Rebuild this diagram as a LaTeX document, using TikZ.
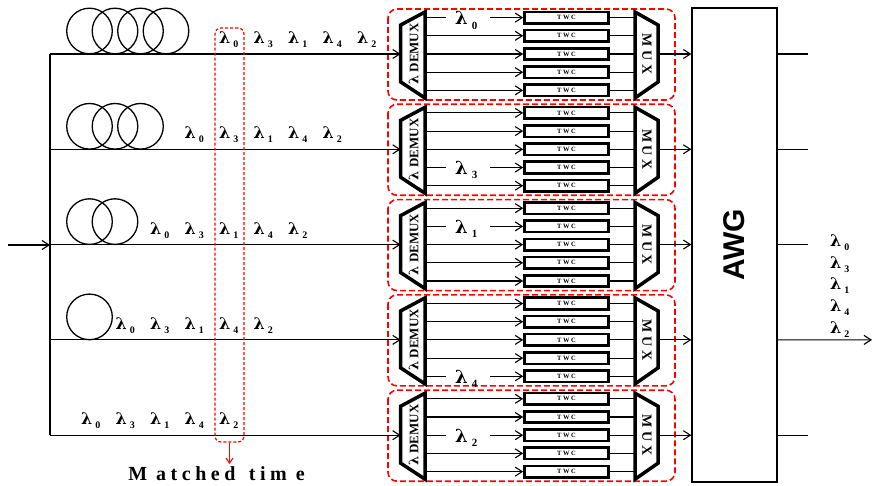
\documentclass[tikz,border=0pt]{standalone}
\usepackage{fontspec}
\setmainfont{Liberation Serif}
\newfontfamily\awgfont{Liberation Sans}
\newfontfamily\lamfont{DejaVu Serif}
\usetikzlibrary{arrows.meta}
\newcommand{\lam}[1]{{\lamfont\fontsize{16}{16}\selectfont\bfseries λ}\kern3pt\raisebox{-4pt}{\fontsize{10}{10}\selectfont\bfseries #1}}
\newcommand{\biglam}[1]{{\lamfont\fontsize{18}{18}\selectfont\bfseries λ}\kern4pt\raisebox{-4.5pt}{\fontsize{11}{11}\selectfont\bfseries #1}}
\begin{document}
\begin{tikzpicture}[x=1pt,y=-1pt,
  wire/.style={line width=1.1pt},
  arr/.style={wire,-{Straight Barb[length=7pt,width=9pt]}},
  thickbox/.style={line width=3.5pt, line join=miter},
  twcbox/.style={draw, line width=2.6pt, minimum width=84, minimum height=11.5, inner sep=0,
    font=\fontsize{6.5}{6.5}\selectfont\bfseries},
  blockbox/.style={draw=red, line width=1.6pt, dash pattern=on 6pt off 3pt, rounded corners=9pt},
  lab/.style={inner sep=0, anchor=base west},
  coil/.style={line width=1.3pt}
]
\useasboundingbox (0,0) rectangle (872,486);

% AWG
\node[draw, line width=1.3pt, rotate=90, minimum width=474, minimum height=85, inner sep=0,
  font=\awgfont\fontsize{30}{30}\selectfont\bfseries] (awg) at (734.5,245) {AWG};

% input and bus
\coordinate (src) at (8,245);
\coordinate (bustop) at (50,54);
\coordinate (busmid) at (50,245);
\coordinate (busbot) at (50,435.2);
\draw[arr] (src) -- (busmid);
\draw[wire] (bustop) -- (busbot);

\foreach \r in {0,...,4} {
  \pgfmathsetmacro{\y}{54+95.3*\r}
  % block
  \draw[blockbox] (388,\y-45) rectangle (675,\y+46);
  % input
  \coordinate (in\r) at (50,\y);
  \coordinate (dmi\r) at (400.7,\y);
  \draw[arr] (in\r) -- (dmi\r);
  % demux
  \draw[thickbox] (400.7,\y-29) -- (425,\y-42) -- (425,\y+44) -- (400.7,\y+28) -- cycle;
  \node[rotate=90, inner sep=0, font=\fontsize{13}{13}\selectfont\bfseries] (dmx\r) at (413.5,\y) {{\lamfont λ} DEMUX};
  % mux
  \draw[thickbox] (635,\y-42) -- (658,\y-29) -- (658,\y+28) -- (635,\y+44) -- cycle;
  \node[rotate=-90, inner sep=0, font=\fontsize{14}{14}\selectfont\bfseries] (mux\r) at (647,\y) {M U X};
  \foreach \j in {0,...,4} {
    \pgfmathsetmacro{\yy}{\y+18.2*(\j-2)}
    \coordinate (do\r\j) at (425,\yy);
    \node[twcbox] (twc\r\j) at (566.5,\yy) {T W C};
    \coordinate (mi\r\j) at (635,\yy);
    \draw[arr] (do\r\j) -- (twc\r\j.west);
    \draw[wire] (twc\r\j.east) -- (mi\r\j);
  }
  % mux to awg
  \coordinate (mo\r) at (658,\y);
  \draw[arr] (mo\r) -- (awg.north |- mo\r);
  % awg outputs
  \coordinate (ao\r) at (777,\y);
  \coordinate (ae\r) at (808,\y);
  % labels on fibre lines
  \foreach \k/\d in {0/0,1/3,2/1,3/4,4/2} {
    \node[lab] (l\r\k) at ({226+34.5*(\k-\r)-7},{\y-10.5}) {\lam{\d}};
  }
}
\draw[wire] (ao0) -- (ae0);
\draw[wire] (ao1) -- (ae1);
\draw[wire] (ao2) -- (ae2);
\draw[wire] (ao4) -- (ae4);
\coordinate (aend) at (872,339.9);
\draw[arr] (ao3) -- (aend);

% fibre coils
\foreach \r/\n in {0/4,1/3,2/2,3/1} {
  \foreach \k in {1,...,\n} {
    \draw[coil] ({89.5+25.5*(\k-1)},{54+95.3*\r-23}) circle (22.8);
  }
}

% demux wavelength labels
\foreach \r/\j/\d in {0/0/0,1/3/3,2/1/1,3/4/4,4/2/2} {
  \pgfmathsetmacro{\yy}{54+95.3*\r+18.2*(\j-2)}
  \fill[white] (446,\yy-2.5) rectangle (490,\yy+2.5);
  \node[lab] (dl\r) at (455,\yy+7) {\biglam{\d}};
}

% output wavelength labels
\foreach \i/\d in {0/0,1/3,2/1,3/4,4/2} {
  \node[lab] (ol\i) at (830,{246.5+21.7*\i}) {\lam{\d}};
}

% matched time
\node[draw=red, line width=1.2pt, dash pattern=on 3pt off 2pt, rounded corners=6pt,
  minimum width=29, minimum height=414, inner sep=0] (mt) at (229.5,235) {};
\coordinate (mtend) at (229.5,464);
\draw[red, line width=1.1pt, -{Straight Barb[length=5pt,width=7pt]}] (mt.south) -- (mtend);
\def\ls{\hspace{4.5pt}}
\node[inner sep=0, anchor=base, font=\fontsize{20}{20}\selectfont\bfseries] (mtext) at (216.5,480)
  {M\ls\ls a\ls t\ls c\ls h\ls e\ls d\ls\ls\ls t\ls i\ls m\ls\ls e};
\end{tikzpicture}
\end{document}
